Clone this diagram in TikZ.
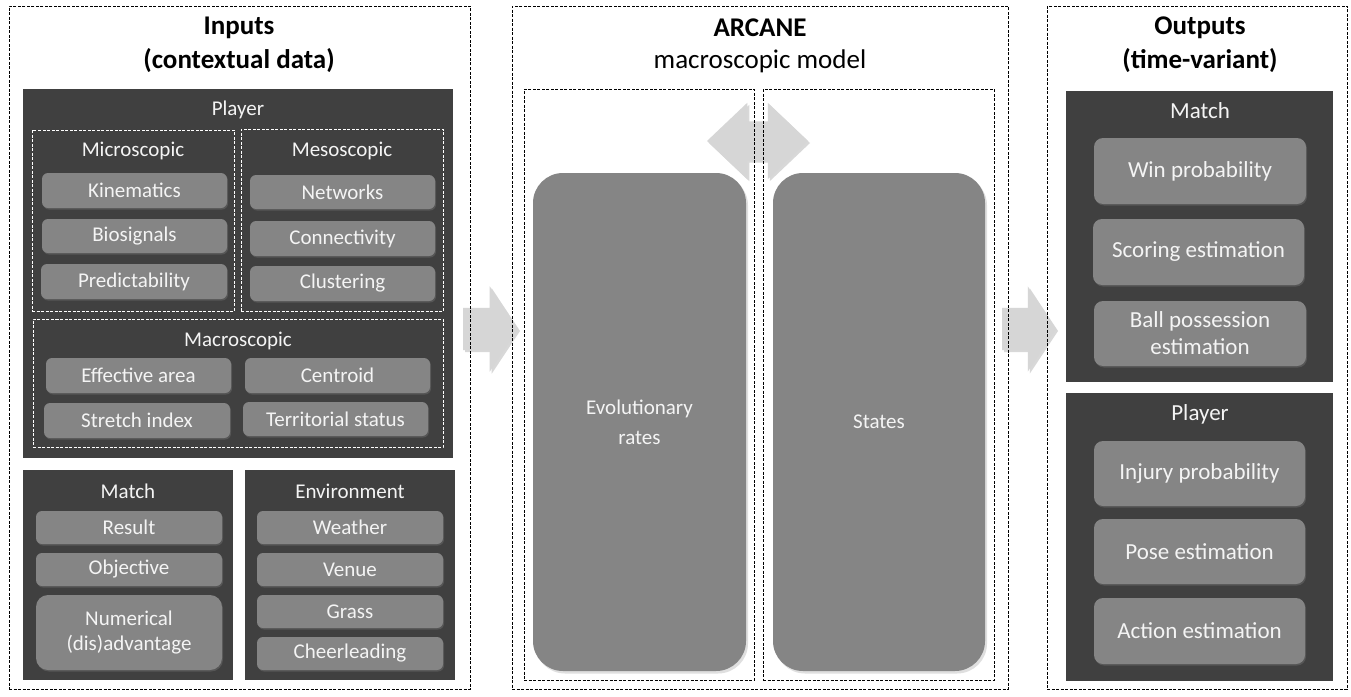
\documentclass[tikz,border=0pt]{standalone}
\usepackage{fontspec}
\setmainfont{Carlito}
\usetikzlibrary{shapes.arrows,shadows}
\definecolor{darkbg}{HTML}{404040}
\definecolor{itemgray}{HTML}{858585}
\definecolor{arrowgray}{HTML}{D6D6D6}
\definecolor{textwhite}{HTML}{F4F4F4}
\newcommand{\bx}[7]{\node[#1, minimum width={(#5)-(#3)}, minimum height={(#6)-(#4)}] (#2) at ({((#3)+(#5))/2},{((#4)+(#6))/2}) {#7};}
\tikzset{
  every node/.style={inner sep=0pt, outer sep=0pt},
  outerbox/.style={draw=black, line width=0.8pt, dash pattern=on 3pt off 1.5pt},
  innerbox/.style={draw=white, line width=1pt, dash pattern=on 3pt off 1.5pt},
  panel/.style={fill=darkbg},
  itembox/.style={fill=itemgray, rounded corners=6pt, text=textwhite, font=\fontsize{21}{25}\selectfont, align=center, drop shadow={opacity=0.35, shadow xshift=1pt, shadow yshift=-1.5pt}},
  outitem/.style={itembox, rounded corners=9pt, font=\fontsize{23}{27}\selectfont},
  bigitem/.style={fill=itemgray, rounded corners=30pt, text=textwhite, font=\fontsize{21}{30}\selectfont, align=center, drop shadow={opacity=0.25, shadow xshift=2pt, shadow yshift=-2.5pt}},
  lab/.style={text=textwhite, font=\fontsize{21}{25}\selectfont},
  outlab/.style={text=textwhite, font=\fontsize{23}{27}\selectfont},
  titlelab/.style={font=\bfseries\fontsize{27}{34}\selectfont, align=center},
  blockarrow/.style={fill=arrowgray, drop shadow={opacity=0.3, shadow xshift=2pt, shadow yshift=-2pt}},
}
\begin{document}
\begin{tikzpicture}[x=1pt,y=-1pt]
\useasboundingbox[fill=white] (0,0) rectangle (1351,696);
% block arrows (below dashed frames)
\node[blockarrow, single arrow, inner xsep=0pt, inner ysep=21pt, minimum height=55, single arrow head extend=21.5pt, single arrow tip angle=113, anchor=tail] (arrIn) at (463,329) {};
\node[blockarrow, single arrow, inner xsep=0pt, inner ysep=21pt, minimum height=54, single arrow head extend=21.5pt, single arrow tip angle=113, anchor=tail] (arrOut) at (1002,329) {};
\node[blockarrow, double arrow, inner xsep=0pt, inner ysep=19.5pt, minimum height=101, double arrow head extend=18.5pt, double arrow tip angle=87] (arrMid) at (757.5,141) {};

% ===== Inputs =====
\bx{outerbox}{inFrame}{9}{6}{470}{689}{}
\node[titlelab] (inTitle) at (239,45) {Inputs\\(contextual data)};
\bx{panel}{playerPanel}{23}{89}{453}{458}{}
\node[lab] (playerLab) at (238,110) {Player};
\bx{innerbox}{microBox}{32}{130}{234}{311}{}
\bx{innerbox}{mesoBox}{241}{129}{443}{311}{}
\node[lab] (microLab) at (133,151) {Microscopic};
\node[lab] (mesoLab) at (342,151) {Mesoscopic};
\bx{itembox}{kin}{42}{173}{227}{208}{Kinematics}
\bx{itembox}{bio}{42}{219}{227}{253}{Biosignals}
\bx{itembox}{pred}{41}{264}{227}{299}{Predictability}
\bx{itembox}{net}{250}{175}{435}{209}{Networks}
\bx{itembox}{conn}{250}{221}{435}{256}{Connectivity}
\bx{itembox}{clus}{250}{266}{435}{301}{Clustering}
\bx{innerbox}{macroBox}{33}{319}{443}{447}{}
\node[lab] (macroLab) at (238,341) {Macroscopic};
\bx{itembox}{eff}{46}{358}{231}{393}{Effective area}
\bx{itembox}{cent}{245}{358}{430}{393}{Centroid}
\bx{itembox}{stretch}{44}{403}{230}{438}{Stretch index}
\bx{itembox}{terr}{243}{402}{428}{436}{Territorial status}
\bx{panel}{matchPanel}{23}{470}{233}{680}{}
\node[lab] (matchLab) at (128,491) {Match};
\bx{itembox}{res}{36}{511}{222}{544}{Result}
\bx{itembox}{obj}{36}{553}{222}{586}{Objective}
\bx{itembox, rounded corners=12pt}{num}{36}{595}{222}{670}{Numerical\\(dis)advantage}
\bx{panel}{envPanel}{245}{470}{455}{680}{}
\node[lab] (envLab) at (350,491) {Environment};
\bx{itembox}{weather}{257}{511}{443}{544}{Weather}
\bx{itembox}{venue}{257}{553}{443}{586}{Venue}
\bx{itembox}{grass}{257}{595}{443}{628}{Grass}
\bx{itembox}{cheer}{257}{637}{443}{670}{Cheerleading}

% ===== ARCANE =====
\bx{outerbox}{midFrame}{512}{6}{1008}{689}{}
\node[font=\bfseries\fontsize{27}{34}\selectfont] (midTitle1) at (760,28) {ARCANE};
\node[font=\fontsize{27}{34}\selectfont] (midTitle2) at (760,61) {macroscopic model};
\bx{outerbox}{leftInner}{524}{89}{754}{680}{}
\bx{outerbox}{rightInner}{763}{89}{994}{680}{}
\bx{bigitem}{evo}{533}{173}{746}{671}{Evolutionary\\rates}
\bx{bigitem}{states}{773}{173}{985}{671}{States}

% ===== Outputs =====
\bx{outerbox}{outFrame}{1047}{6}{1347}{689}{}
\node[titlelab] (outTitle) at (1200,45) {Outputs\\(time-variant)};
\bx{panel}{outMatch}{1066}{91}{1333}{382}{}
\node[outlab] (outMatchLab) at (1200,111) {Match};
\bx{outitem}{win}{1094}{138}{1306}{204}{Win probability}
\bx{outitem}{score}{1093}{219}{1304}{285}{Scoring estimation}
\bx{outitem}{ball}{1094}{301}{1306}{366}{Ball possession\\estimation}
\bx{panel}{outPlayer}{1066}{393}{1333}{681}{}
\node[outlab] (outPlayerLab) at (1200,414) {Player};
\bx{outitem}{injury}{1094}{441}{1305}{506}{Injury probability}
\bx{outitem}{pose}{1094}{519}{1305}{584}{Pose estimation}
\bx{outitem}{action}{1094}{598}{1305}{664}{Action estimation}
\end{tikzpicture}
\end{document}
